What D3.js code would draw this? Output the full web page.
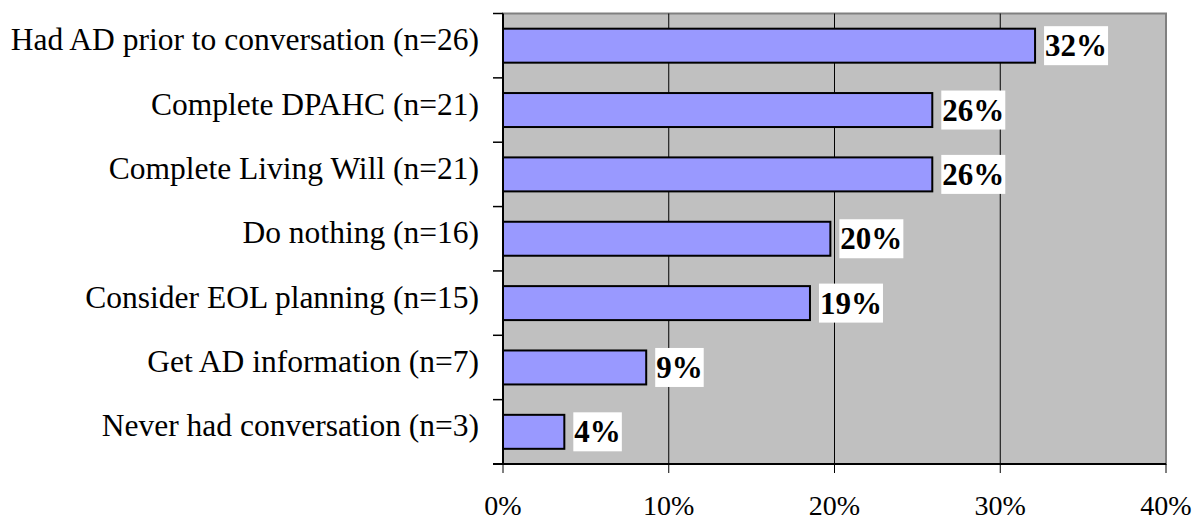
<!DOCTYPE html>
<html>
<head>
<meta charset="utf-8">
<script src="https://cdn.jsdelivr.net/npm/d3@7"></script>
<style>
  html, body { margin: 0; padding: 0; background: #ffffff; }
  svg { display: block; }
</style>
</head>
<body>
<svg id="chart" width="1204" height="521"></svg>
<script>
// Outcomes after the advance-directive conversation (share of respondents)
const categories = [
  "Had AD prior to conversation (n=26)",
  "Complete DPAHC (n=21)",
  "Complete Living Will (n=21)",
  "Do nothing (n=16)",
  "Consider EOL planning (n=15)",
  "Get AD information (n=7)",
  "Never had conversation (n=3)"
];
const values = [0.321, 0.259, 0.259, 0.1975, 0.1852, 0.0864, 0.037];
const xTicks = [0, 0.1, 0.2, 0.3, 0.4];

const svg = d3.select("#chart");
const plot = { left: 503, right: 1166, top: 13.5, bottom: 464 };
const serif = "'Liberation Serif', 'Times New Roman', serif";

const x = d3.scaleLinear().domain([0, 0.4]).range([plot.left, plot.right]);
const y = d3.scaleBand().domain(categories).range([plot.top, plot.bottom])
  .paddingInner(0.472).paddingOuter(0.236);
const step = y.step();

// plot area background with grey frame on top/right
svg.append("rect")
  .attr("x", plot.left).attr("y", plot.top)
  .attr("width", plot.right - plot.left).attr("height", plot.bottom - plot.top)
  .attr("fill", "#c0c0c0").attr("stroke", "#808080").attr("stroke-width", 2);

// vertical gridlines
svg.append("g").selectAll("line")
  .data(xTicks.filter(d => d > 0 && d < 0.4))
  .join("line")
  .attr("x1", d => x(d)).attr("x2", d => x(d))
  .attr("y1", plot.top).attr("y2", plot.bottom)
  .attr("stroke", "#000").attr("stroke-width", 1);

// bars
svg.append("g").selectAll("rect")
  .data(values)
  .join("rect")
  .attr("x", x(0))
  .attr("y", (d, i) => y(categories[i]))
  .attr("width", d => x(d) - x(0))
  .attr("height", y.bandwidth())
  .attr("fill", "#9999ff")
  .attr("stroke", "#000").attr("stroke-width", 2);

// y axis: line, ticks at band boundaries, category labels
const yAxis = svg.append("g");
yAxis.append("line")
  .attr("x1", plot.left).attr("x2", plot.left)
  .attr("y1", plot.top).attr("y2", plot.bottom)
  .attr("stroke", "#000").attr("stroke-width", 2);
yAxis.selectAll("line.tick")
  .data(d3.range(categories.length + 1))
  .join("line").attr("class", "tick")
  .attr("x1", plot.left - 10).attr("x2", plot.left)
  .attr("y1", i => plot.top + i * step).attr("y2", i => plot.top + i * step)
  .attr("stroke", "#000").attr("stroke-width", 1.5);
yAxis.selectAll("text")
  .data(categories)
  .join("text")
  .attr("x", 479)
  .attr("y", d => y(d) + y.bandwidth() / 2 + 4.5)
  .attr("text-anchor", "end")
  .attr("font-family", serif)
  .attr("font-size", 31.5)
  .attr("fill", "#000")
  .text(d => d);

// x axis
const xAxis = svg.append("g");
xAxis.append("line")
  .attr("x1", plot.left - 10).attr("x2", plot.right)
  .attr("y1", plot.bottom).attr("y2", plot.bottom)
  .attr("stroke", "#000").attr("stroke-width", 2);
xAxis.selectAll("line.tick")
  .data(xTicks)
  .join("line").attr("class", "tick")
  .attr("x1", d => x(d)).attr("x2", d => x(d))
  .attr("y1", plot.bottom).attr("y2", plot.bottom + 9)
  .attr("stroke", "#000").attr("stroke-width", 1);
xAxis.selectAll("text")
  .data(xTicks)
  .join("text")
  .attr("x", d => x(d))
  .attr("y", 515)
  .attr("text-anchor", "middle")
  .attr("font-family", serif)
  .attr("font-size", 28)
  .attr("fill", "#000")
  .text(d3.format(".0%"));

// value labels on white boxes
const fmt = d3.format(".0%");
const labels = svg.append("g").selectAll("g")
  .data(values)
  .join("g")
  .attr("transform", (d, i) => `translate(${x(d) + 9},${y(categories[i]) + y.bandwidth() / 2})`);
labels.append("rect").attr("fill", "#fff");
labels.append("text")
  .attr("x", 1)
  .attr("y", 10.5)
  .attr("font-family", serif)
  .attr("font-weight", "bold")
  .attr("font-size", 31)
  .attr("fill", "#000")
  .text(d => fmt(d));
labels.each(function () {
  const g = d3.select(this);
  const w = g.select("text").node().getComputedTextLength();
  g.select("rect")
    .attr("x", 0).attr("y", -19.5)
    .attr("width", w + 2).attr("height", 39);
});
</script>
</body>
</html>
